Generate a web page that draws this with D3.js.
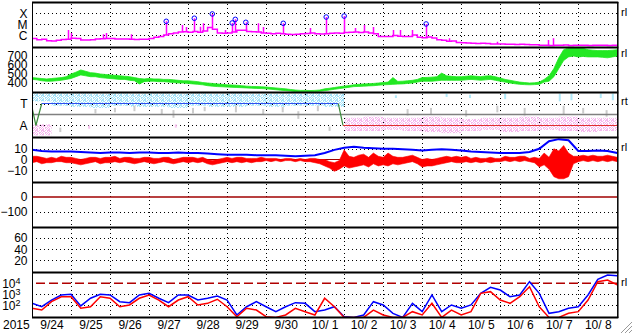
<!DOCTYPE html>
<html>
<head>
<meta charset="utf-8">
<script src="https://cdn.jsdelivr.net/npm/d3@7"></script>
<style>
  body { margin: 0; background: #fff; }
  svg { display: block; font-family: "Liberation Sans", Arial, sans-serif; }
</style>
</head>
<body>
<svg id="chart" width="633" height="334"></svg>
<script>
// ---- data (t = days since 2015-09-24 00:00 UT) ----
const yearLabel = "2015";
const dayLabels = ["9/24","9/25","9/26","9/27","9/28","9/29","9/30",
  "10/ 1","10/ 2","10/ 3","10/ 4","10/ 5","10/ 6","10/ 7","10/ 8"];

const FINE = 0.125; // days (3 h)
const STEP = 0.25;  // days (6 h)
const HALF = 0.5;   // days, sector cloud bins

// GOES x-ray, log10(W/m2), every 3 h
const xrayLog = [
  -6.30,-6.40,-6.35,-6.50,-6.52,-6.45,-6.38,-6.36,
  -6.27,-6.30,-6.42,-6.43,-6.40,-6.34,-6.32,-6.28,
  -6.30,-6.33,-6.34,-6.33,-6.36,-6.38,-6.37,-6.35,
  -6.28,-6.18,-6.10,-5.97,-5.85,-5.80,-5.70,-5.68,
  -5.72,-5.65,-5.73,-5.60,-5.30,-5.45,-5.80,-5.82,
  -5.80,-5.70,-5.55,-5.55,-5.65,-5.68,-5.70,-5.80,
  -5.82,-5.85,-5.82,-5.85,-5.90,-5.92,-5.90,-5.85,
  -5.83,-5.80,-5.86,-5.88,-5.85,-5.82,-5.80,-5.82,
  -5.75,-5.72,-5.70,-5.74,-5.70,-5.80,-5.85,-6.10,
  -6.12,-6.10,-6.02,-6.08,-6.12,-6.10,-5.98,-6.18,
  -6.22,-6.15,-6.25,-6.40,-6.45,-6.55,-6.52,-6.65,
  -6.68,-6.70,-6.73,-6.74,-6.73,-6.75,-6.80,-6.78,
  -6.80,-6.82,-6.82,-6.83,-6.82,-6.83,-6.85,-6.86,
  -6.90,-6.90,-6.92,-6.90,-6.91,-6.89,-6.92,-6.90,
  -6.91,-6.90,-6.92,-6.90,-6.91,-6.90,-6.92,-6.90,
  -6.91];
// short spikes [t, log10 peak]
const xraySpikes = [[0.92,-5.52],[1.0,-5.79],[1.82,-5.91],[1.90,-5.79],[2.54,-5.91],
  [3.84,-5.06],[3.95,-5.25],[4.31,-5.22],[4.38,-4.91],[4.95,-5.52],[5.79,-4.91],
  [5.92,-5.25],[7.12,-5.34],[8.28,-5.34],[8.51,-5.06],[8.74,-5.25],[9.25,-5.52],
  [9.43,-5.52],[9.74,-5.52],[10.69,-6.27],[11.92,-6.58],[13.22,-6.43],[13.35,-6.27]];
// M-class flares [t, log10 peak]
const flares = [[3.44,-4.73],[4.16,-4.45],[4.62,-4.06],[5.13,-4.88],[5.21,-4.55],
  [5.48,-4.82],[6.44,-4.91],[7.54,-4.34],[8.00,-4.25],[10.10,-4.97]];

// solar wind speed km/s, [low, high] every 3 h
const windSpeed = [
  [440,460],[435,455],[425,450],[420,445],[420,450],[425,455],[430,460],[440,470],
  [450,500],[470,520],[490,545],[480,530],[470,515],[470,510],[460,500],[455,495],
  [450,490],[445,485],[440,480],[440,475],[430,470],[425,460],[390,450],[415,445],
  [420,450],[420,445],[415,445],[415,440],[410,440],[405,435],[400,430],[400,425],
  [395,425],[390,420],[385,415],[380,405],[370,400],[365,395],[360,390],[358,385],
  [355,380],[352,378],[350,375],[348,370],[345,365],[343,362],[340,360],[338,358],
  [335,355],[330,350],[325,345],[320,340],[315,335],[310,328],[305,322],[304,318],
  [305,318],[304,316],[305,318],[308,322],[315,335],[322,342],[330,350],[338,358],
  [345,365],[352,372],[360,380],[362,385],[365,390],[368,392],[370,395],[375,400],
  [380,405],[382,410],[385,460],[388,418],[390,420],[395,425],[400,430],[410,440],
  [420,460],[420,462],[420,465],[425,470],[430,510],[430,480],[430,475],[430,470],
  [430,470],[435,475],[440,480],[435,475],[430,470],[435,478],[440,480],[430,470],
  [420,455],[410,440],[400,430],[392,420],[385,410],[382,405],[380,400],[382,402],
  [385,410],[410,440],[420,480],[470,560],[560,680],[650,770],[690,790],[700,790],
  [690,790],[695,785],[690,770],[690,765],[690,760],[685,760],[680,760],[690,765],
  [700,770]];

// IMF sector: +1 toward, -1 away
const sectorLine = [[0,0.65],[0.1,-1],[0.25,1],[7.85,1],[7.97,-1],[15,-1]];
// half-day clouds of IMF angle points [low, high] (null = none)
const towardCloud = [[1.2,1.95],[0.8,1.95],[0.7,1.95],[0.6,1.9],[0.8,1.95],[0.7,1.9],
  [0.7,1.95],[0.6,1.9],[0.8,1.95],[0.7,1.9],[0.7,1.95],[0.8,1.9],[0.7,1.9],[0.8,1.9],
  [0.8,1.95],[0.7,1.9],null,null,null,null,null,null,null,null,null,null,null,null,null,null];
const awayCloud = [[-1.9,-0.9],null,null,null,null,null,null,null,null,null,null,null,
  null,null,null,null,[-1.5,-0.3],[-1.5,-0.2],[-1.4,-0.3],[-1.5,-0.3],[-1.6,-0.2],
  [-1.7,-0.3],[-1.5,-0.4],[-1.4,-0.3],[-1.6,-0.3],[-1.5,-0.2],[-1.4,-0.3],[-1.5,-0.2],
  [-1.6,-0.3],[-1.5,-0.3]];
// scattered points [t, low, high]
const towardSpecks = [[9.3,1.5,1.75],[10.6,1.6,1.9],[11.2,1.5,1.8],[12.1,1.4,1.9],
  [13.5,1.2,1.9],[13.8,1.3,1.9],[14.55,1.5,1.9],[14.86,1.3,1.9]];
const awaySpecks = [[1.44,-1.3,-1.0],[3.66,-1.2,-0.9]];
const graySpecks = [[0.7,-1.6,-1.2],[1.6,0.1,0.5],[2.1,0.2,0.6],[2.6,0.3,0.8],[3.3,0.0,0.5],
  [3.6,-0.3,0.4],[4.1,0.1,0.6],[4.4,0.3,0.7],[5.2,0.2,0.8],[5.9,0.0,0.5],[6.4,0.2,0.7],
  [6.8,-0.4,0.3],[7.3,0.3,0.8],[7.6,-1.5,-1.1],[9.6,-0.1,0.5],[10.2,0.0,0.6],
  [11.1,-0.2,0.4],[11.9,0.2,0.8],[12.6,-0.1,0.6],[13.6,0.0,0.8],[14.1,0.1,0.6],[14.7,-0.2,0.4]];

// IMF |B| (nT) every 6 h
const imfBt = [9,8,7.5,7.5,7.5,7,6.5,6,6.5,6.5,6,6.5,6.5,6,6,6.5,6,6,5.5,5,
  4.5,4.5,4.5,4,4,4,3.5,3,3.5,4,6,9,11,12,11,10.5,10,10,9.5,9,
  8.5,9,9.5,9,8.5,7.5,7,6.5,6,6,6,7,10,17,19,18,8,8,8.5,8,6];
// IMF Bz range [low, high] (nT) every 3 h
const imfBz = [
  [-3,3],[-2,3],[-4,2],[-3,1],[-3,2],[-2,1],[-2,3],[-3,2],
  [-3,2],[-4,1],[-5,0],[-4,1],[-3,2],[-2,2],[-4,1],[-3,2],
  [-3,2],[-2,3],[-3,1],[-2,2],[-3,2],[-4,1],[-3,1],[-2,2],
  [-3,2],[-4,1],[-3,1],[-2,2],[-3,2],[-4,0],[-3,1],[-2,2],
  [-3,2],[-2,2],[-3,1],[-2,2],[-4,0],[-5,-1],[-4,0],[-3,1],
  [-2,2],[-3,1],[-2,2],[-3,2],[-2,1],[-3,1],[-2,1],[-2,2],
  [-1,1],[-2,1],[-1,1],[-2,0],[-1,1],[-1,1],[-2,0],[-1,1],
  [-2,0],[-2,1],[-3,1],[-4,0],[-6,0],[-8,-2],[-11,-3],[-9,-1],
  [-6,9],[-8,3],[-7,2],[-6,4],[-5,5],[-7,2],[-4,6],[-6,3],
  [-5,2],[-6,6],[-4,3],[-5,2],[-4,2],[-3,3],[-2,4],[-4,2],
  [-7,0],[-6,1],[-6,0],[-5,1],[-4,2],[-3,3],[-2,2],[-3,3],
  [-3,2],[-2,3],[-3,1],[-2,2],[-3,1],[-2,1],[-3,2],[-2,1],
  [-2,1],[-1,3],[-2,2],[-1,2],[-2,3],[-1,3],[-2,1],[-3,2],
  [-7,1],[-5,6],[-9,2],[-16,10],[-18,8],[-18,13],[-16,6],[-4,3],
  [-2,3],[-1,4],[-2,3],[-1,4],[-2,3],[-1,3],[-2,4],[-1,3],
  [-2,2]];

// electron flux, log10, every 6 h
const fluxBlue = [2.18,1.87,2.48,2.94,3.0,1.94,2.64,3.0,2.94,2.33,2.24,2.94,3.09,2.64,2.24,
  2.94,2.94,2.48,2.64,2.85,2.48,1.12,1.87,2.33,1.87,1.42,1.87,2.24,2.18,1.42,1.57,1.87,
  0.96,0.9,1.12,2.33,2.03,1.27,0.9,2.18,1.42,2.94,1.42,2.03,1.73,2.03,3.09,3.64,3.39,
  2.78,2.94,4.15,3.09,1.27,1.42,1.73,1.87,2.94,4.36,4.75,4.69];
const fluxRed = [1.73,1.57,2.33,2.78,2.78,1.73,1.87,2.78,2.64,1.87,2.03,2.64,2.94,2.48,1.87,
  2.48,2.78,2.03,2.18,2.55,1.87,0.96,1.73,1.57,0.96,0.9,1.12,1.73,1.42,1.12,2.64,1.87,
  0.9,0.9,0.9,1.57,1.12,0.9,0.9,1.42,1.12,2.18,0.9,1.57,1.12,1.42,3.09,3.24,2.48,
  2.18,2.78,3.69,1.87,0.9,0.9,1.27,1.42,2.48,4.15,4.3,3.85];
const fluxAlertLog = 4;

// ---- layout ----
const L = 32, R = 617.3, PH = 45, FONT = 12;
const panelTop = [2, 47, 92, 137, 182, 227, 272];
const BOTTOM = panelTop[6] + PH;

let svg = d3.select("#chart");
let x = d3.scaleLinear().domain([0, 15]).range([L, R]);

let yX = d3.scaleLinear().domain([-7, -4]).range([46.3, 13.3]);
let ySpeed = d3.scaleLinear().domain([300, 800]).range([92, 47]);
let ySector = d3.scaleLinear().domain([-2.05, 2.05]).range([137, 92]);
let yB = d3.scaleLinear().domain([-21, 21]).range([182, 137]);
let yDst = d3.scaleLinear().domain([-200, 100]).range([227, 182]);
let yKp = d3.scaleLinear().domain([-1, 80]).range([272, 227]);
let yFlux = d3.scaleLinear().domain([1, 5]).range([316.3, 272.3]);

let defs = svg.append("defs");
panelTop.forEach((top, i) => {
  defs.append("clipPath").attr("id", "clip" + i)
    .append("rect").attr("x", L).attr("y", top).attr("width", R - L).attr("height", PH);
});
// speckled fills for the IMF angle clouds
const speckRows = ["XX.X.X", ".XX..X", "X..XX.", ".X.X.X", "XX..X."];
function speckle(id, color) {
  let p = defs.append("pattern").attr("id", id).attr("patternUnits", "userSpaceOnUse")
    .attr("width", 6).attr("height", 5);
  speckRows.forEach((row, r) => {
    row.split("").forEach((c, k) => {
      if (c === "X") p.append("rect").attr("x", k).attr("y", r).attr("width", 1).attr("height", 1).attr("fill", color);
    });
  });
}
speckle("speckBlue", "#a4e2f8");
speckle("speckPink", "#f6b8ee");

// vertical dotted day grid
let grid = svg.append("g").attr("stroke", "#000").attr("stroke-dasharray", "1,3");
d3.range(1, 15).forEach(d => {
  let xx = Math.round(x(d)) + 0.5;
  panelTop.forEach(top => {
    grid.append("line").attr("x1", xx).attr("x2", xx).attr("y1", top + 2).attr("y2", top + PH);
  });
});

// horizontal dotted lines + left labels
function hGrid(scale, vals) {
  vals.forEach(v => {
    let yy = Math.round(scale(v)) + 0.5;
    grid.append("line").attr("x1", L).attr("x2", R).attr("y1", yy).attr("y2", yy);
  });
}
function leftAxis(scale, vals, fmt) {
  let g = svg.append("g").attr("transform", "translate(27.5,0)")
    .call(d3.axisLeft(scale).tickValues(vals).tickFormat(fmt).tickSize(0).tickPadding(0));
  g.select(".domain").remove();
  g.attr("font-size", FONT).attr("font-family", null);
  g.selectAll("text").attr("fill", "#000");
  return g;
}

hGrid(yX, [-4, -5, -6]);
leftAxis(yX, [-4, -5, -6], d => ({"-4": "X", "-5": "M", "-6": "C"})[d]);
hGrid(ySpeed, [400, 500, 600, 700]);
leftAxis(ySpeed, [400, 500, 600, 700], d3.format("d"));
hGrid(ySector, [1, -1]);
leftAxis(ySector, [1, -1], d => d > 0 ? "T" : "A");
hGrid(yB, [10, -10]);
leftAxis(yB, [10, 0, -10], d3.format("d"));
hGrid(yDst, [-100]);
leftAxis(yDst, [0, -100], d3.format("d"));
hGrid(yKp, [20, 40, 60]);
leftAxis(yKp, [20, 40, 60], d3.format("d"));
hGrid(yFlux, [2, 3]);
let fluxAxis = leftAxis(yFlux, [2, 3, 4], d => "10");
fluxAxis.selectAll("text").attr("x", -7)
  .append("tspan").attr("dy", "-0.45em").attr("font-size", 9).text(d => d);

// ---- panel 1: x-ray ----
let p1 = svg.append("g").attr("clip-path", "url(#clip0)");
p1.append("path").datum(xrayLog)
  .attr("fill", "none").attr("stroke", "#ff00ff").attr("stroke-width", 1.5)
  .attr("d", d3.line().x((d, i) => x(i * FINE)).y(d => yX(d)).curve(d3.curveStepAfter));
let baseAt = t => xrayLog[Math.min(xrayLog.length - 1, Math.floor(t / FINE))];
p1.selectAll("line.spike").data(xraySpikes.concat(flares)).enter().append("line")
  .attr("x1", d => Math.round(x(d[0])) + 0.5).attr("x2", d => Math.round(x(d[0])) + 0.5)
  .attr("y1", d => yX(baseAt(d[0]))).attr("y2", d => yX(d[1]))
  .attr("stroke", "#ff00ff").attr("stroke-width", 1.5);
p1.selectAll("circle").data(flares).enter().append("circle")
  .attr("cx", d => x(d[0])).attr("cy", d => yX(d[1])).attr("r", 2.3)
  .attr("fill", "none").attr("stroke", "#0000ff").attr("stroke-width", 1);

// ---- panel 2: wind speed ----
svg.append("g").attr("clip-path", "url(#clip1)").append("path").datum(windSpeed)
  .attr("fill", "#22e822").attr("stroke", "#22e822").attr("stroke-width", 0.8)
  .attr("d", d3.area().x((d, i) => x(i * FINE)).y0(d => ySpeed(d[0])).y1(d => ySpeed(d[1])));

// ---- panel 3: IMF sector ----
let p3 = svg.append("g").attr("clip-path", "url(#clip2)");
function cloud(data, fill) {
  p3.append("g").selectAll("rect").data(data.map((d, i) => d && [i * HALF, d[0], d[1]]).filter(d => d))
    .enter().append("rect")
    .attr("x", d => x(d[0])).attr("width", x(HALF) - x(0))
    .attr("y", d => ySector(d[2])).attr("height", d => ySector(d[1]) - ySector(d[2]))
    .attr("fill", fill);
}
function specks(data, color) {
  p3.append("g").selectAll("rect").data(data).enter().append("rect")
    .attr("x", d => x(d[0])).attr("width", 2)
    .attr("y", d => ySector(d[2])).attr("height", d => ySector(d[1]) - ySector(d[2]))
    .attr("fill", color);
}
cloud(towardCloud, "url(#speckBlue)");
cloud(awayCloud, "url(#speckPink)");
specks(graySpecks, "#cccccc");
specks(towardSpecks, "#b0e8f8");
specks(awaySpecks, "#f8c4f0");
p3.append("line").attr("x1", L).attr("x2", R)
  .attr("y1", ySector(0)).attr("y2", ySector(0)).attr("stroke", "#808080").attr("stroke-width", 1.5);
d3.pairs(sectorLine).forEach(([a, b]) => {
  let col = (a[1] === 1 && b[1] === 1) ? "#3050f0" : (a[1] === -1 && b[1] === -1) ? "#e03030" : "#3a8a3a";
  p3.append("line").attr("x1", x(a[0])).attr("x2", x(b[0]))
    .attr("y1", ySector(a[1])).attr("y2", ySector(b[1])).attr("stroke", col).attr("stroke-width", 1.2);
});

// ---- panel 4: IMF ----
let p4 = svg.append("g").attr("clip-path", "url(#clip3)");
p4.append("line").attr("x1", L).attr("x2", R).attr("y1", yB(0)).attr("y2", yB(0))
  .attr("stroke", "#a00000").attr("stroke-width", 1);
p4.append("path").datum(imfBz)
  .attr("fill", "#ff0000").attr("stroke", "#ff0000").attr("stroke-width", 0.6)
  .attr("d", d3.area().x((d, i) => x(i * FINE)).y0(d => yB(d[0])).y1(d => yB(d[1])));
p4.append("path").datum(imfBt)
  .attr("fill", "none").attr("stroke", "#0000ff").attr("stroke-width", 2)
  .attr("d", d3.line().x((d, i) => x(i * STEP)).y(d => yB(d)));

// ---- panel 5: Dst reference ----
svg.append("line").attr("x1", L).attr("x2", R).attr("y1", yDst(0)).attr("y2", yDst(0))
  .attr("stroke", "#a00000").attr("stroke-width", 1.5);

// ---- panel 7: electron flux ----
let p7 = svg.append("g").attr("clip-path", "url(#clip6)");
p7.append("line").attr("x1", L + 4).attr("x2", R).attr("y1", yFlux(fluxAlertLog)).attr("y2", yFlux(fluxAlertLog))
  .attr("stroke", "#b00000").attr("stroke-width", 1.5).attr("stroke-dasharray", "9,4");
[[fluxBlue, "#0000ff"], [fluxRed, "#ff0000"]].forEach(([data, col]) => {
  p7.append("path").datum(data)
    .attr("fill", "none").attr("stroke", col).attr("stroke-width", 1.5)
    .attr("d", d3.line().x((d, i) => x(i * STEP)).y(d => yFlux(d)));
});

// ---- frame ----
let frame = svg.append("g").attr("stroke", "#000");
panelTop.concat([BOTTOM]).forEach(yy => {
  frame.append("line").attr("x1", L).attr("x2", R + 1).attr("y1", yy + 0.5).attr("y2", yy + 0.5).attr("stroke-width", 2);
});
frame.append("line").attr("x1", L + 0.5).attr("x2", L + 0.5).attr("y1", 2).attr("y2", BOTTOM + 1).attr("stroke-width", 1);
frame.append("line").attr("x1", R + 0.5).attr("x2", R + 0.5).attr("y1", 2).attr("y2", BOTTOM + 1).attr("stroke-width", 1.5);

// ---- bottom axis ----
let xAxis = svg.append("g").attr("transform", "translate(0," + BOTTOM + ")")
  .call(d3.axisBottom(x).tickValues(d3.range(0.5, 15, 1)).tickFormat((d, i) => dayLabels[i])
    .tickSize(0).tickPadding(3));
xAxis.select(".domain").remove();
xAxis.attr("font-size", FONT).attr("font-family", null);
xAxis.selectAll("text").attr("fill", "#000");
svg.append("text").attr("x", 3).attr("y", 329).attr("font-size", FONT).text(yearLabel);

// right-hand markers
[[16, "rl"], [57, "rl"], [105, "rt"], [151, "rl"], [286, "rl"]].forEach(([yy, s]) => {
  svg.append("text").attr("x", 621).attr("y", yy).attr("font-size", 11).text(s);
});

// resize grip
[0, 4, 8].forEach(o => {
  svg.append("line").attr("x1", 621 + o).attr("y1", 333).attr("x2", 632).attr("y2", 322 + o)
    .attr("stroke", "#999").attr("stroke-width", 1);
});
</script>
</body>
</html>
